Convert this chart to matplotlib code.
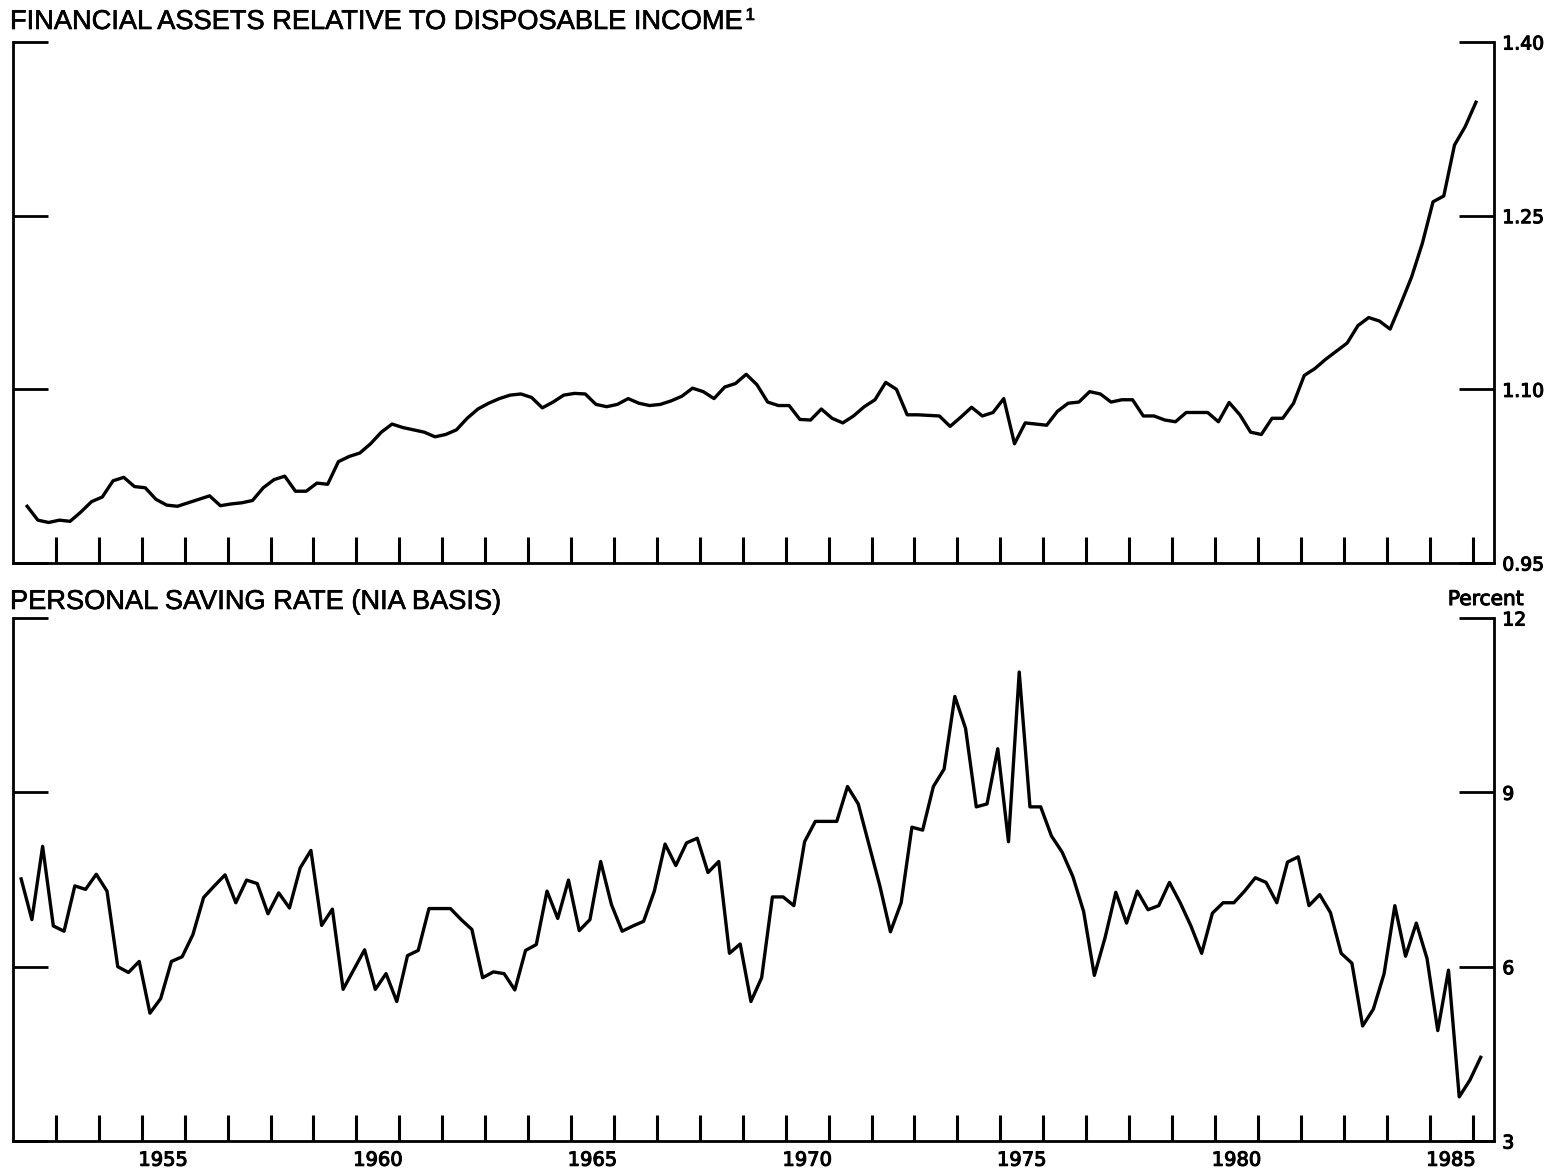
import numpy as np
import matplotlib
matplotlib.use("Agg")
import matplotlib.pyplot as plt
import matplotlib.patheffects as pe

plt.rcParams['font.family'] = ['Liberation Sans', 'DejaVu Sans']

# Ativos financeiros / renda disponivel, trimestral 1952T2 - 1986T1
assets = [
    0.999, 0.987, 0.985,                      # 1952 T2-T4
    0.987, 0.986, 0.994, 1.003,               # 1953
    1.007, 1.021, 1.024, 1.016,               # 1954
    1.015, 1.005, 1.000, 0.999,               # 1955
    1.002, 1.005, 1.008, 0.9995,              # 1956
    1.001, 1.002, 1.004, 1.015,               # 1957
    1.022, 1.025, 1.012, 1.012,               # 1958
    1.019, 1.018, 1.0375, 1.042,              # 1959
    1.045, 1.053, 1.063, 1.070,               # 1960
    1.067, 1.065, 1.063, 1.059,               # 1961
    1.061, 1.065, 1.075, 1.083,               # 1962
    1.088, 1.092, 1.095, 1.096,               # 1963
    1.093, 1.084, 1.089, 1.095,               # 1964
    1.0965, 1.096, 1.087, 1.085,              # 1965
    1.087, 1.092, 1.088, 1.086,               # 1966
    1.087, 1.090, 1.094, 1.101,               # 1967
    1.098, 1.092, 1.102, 1.105,               # 1968
    1.113, 1.104, 1.089, 1.086,               # 1969
    1.086, 1.074, 1.0735, 1.083,              # 1970
    1.075, 1.071, 1.077, 1.085,               # 1971
    1.091, 1.106, 1.100, 1.078,               # 1972
    1.078, 1.0775, 1.077, 1.068,              # 1973
    1.076, 1.0845, 1.077, 1.080,              # 1974
    1.092, 1.053, 1.071, 1.070,               # 1975
    1.069, 1.081, 1.088, 1.089,               # 1976
    1.098, 1.096, 1.089, 1.091,               # 1977
    1.091, 1.077, 1.077, 1.0735,              # 1978
    1.072, 1.080, 1.080, 1.080,               # 1979
    1.072, 1.0886, 1.078, 1.063,              # 1980
    1.061, 1.075, 1.075, 1.088,               # 1981
    1.112, 1.118, 1.126, 1.133,               # 1982
    1.140, 1.155, 1.162, 1.159,               # 1983
    1.152, 1.174, 1.197, 1.226,               # 1984
    1.262, 1.267, 1.311, 1.327,               # 1985
    1.348,                                    # 1986 T1
]

# Taxa de poupanca pessoal (%), trimestral 1952T1 - 1986T1
saving = [
    7.51, 6.81, 8.07, 6.70,    # 1952
    6.61, 7.39, 7.33, 7.59,    # 1953
    7.30, 6.00, 5.90, 6.09,    # 1954
    5.20, 5.45, 6.09, 6.17,    # 1955
    6.55, 7.19, 7.39, 7.58,    # 1956
    7.10, 7.49, 7.43, 6.91,    # 1957
    7.27, 7.01, 7.70, 8.00,    # 1958
    6.71, 6.99, 5.61, 5.95,    # 1959
    6.29, 5.61, 5.88, 5.40,    # 1960
    6.19, 6.28, 7.00, 7.00,    # 1961
    7.00, 6.81, 6.64, 5.81,    # 1962
    5.91, 5.88, 5.60, 6.28,    # 1963
    6.38, 7.30, 6.83, 7.49,    # 1964
    6.62, 6.81, 7.81, 7.07,    # 1965
    6.61, 6.70, 6.78, 7.30,    # 1966
    8.11, 7.74, 8.13, 8.21,    # 1967
    7.62, 7.81, 6.23, 6.39,    # 1968
    5.40, 5.81, 7.20, 7.20,    # 1969
    7.05, 8.15, 8.50, 8.50,    # 1970
    8.50, 9.10, 8.80, 8.10,    # 1971
    7.40, 6.60, 7.10, 8.40,    # 1972
    8.35, 9.10, 9.40, 10.65,   # 1973
    10.10, 8.75, 8.80, 9.75,   # 1974
    8.15, 11.07, 8.75, 8.75,   # 1975
    8.25, 7.97, 7.55, 6.95,    # 1976
    5.85, 6.50, 7.28, 6.75,    # 1977
    7.30, 6.98, 7.05, 7.45,    # 1978
    7.10, 6.70, 6.23, 6.92,    # 1979
    7.10, 7.10, 7.30, 7.53,    # 1980
    7.45, 7.10, 7.80, 7.89,    # 1981
    7.05, 7.24, 6.93, 6.23,    # 1982
    6.06, 4.98, 5.27, 5.88,    # 1983
    7.05, 6.18, 6.75, 6.14,    # 1984
    4.90, 5.94, 3.76, 4.05,    # 1985
    4.44,                      # 1986 T1
]

# datas trimestrais (ano decimal)
t_assets = 1952.25 + 0.25 * np.arange(len(assets)) + 0.08
t_saving = 1952.00 + 0.25 * np.arange(len(saving)) + 0.19

grosso = [pe.withStroke(linewidth=0.8, foreground='black')]
grosso_tit = [pe.withStroke(linewidth=0.45, foreground='black')]
fonte_num = ['DejaVu Sans']

W, H = 1557, 1174
fig = plt.figure(figsize=(W / 100, H / 100), dpi=100)
ax1 = fig.add_axes([13 / W, 1 - 563 / H, 1481 / W, 521 / H])
ax2 = fig.add_axes([13 / W, 1 - 1141 / H, 1481 / W, 523 / H])

def estilo(ax, yticks, ylabels, ylim):
    ax.spines['top'].set_visible(False)
    for s in ['left', 'right', 'bottom']:
        ax.spines[s].set_linewidth(2.0)
    ax.set_xlim(1952.0, 1986.5)
    ax.set_ylim(*ylim)
    ax.set_xticks(np.arange(1953, 1987))
    ax.tick_params(axis='x', which='major', direction='in', length=19,
                   width=2.2, labelbottom=False)
    ax.set_yticks(yticks)
    ax.set_yticklabels(ylabels, family=fonte_num, path_effects=grosso)
    ax.tick_params(axis='y', direction='in', length=25, width=2.0,
                   left=True, right=True, labelleft=False, labelright=True,
                   labelsize=13.5, pad=6)

ax1.plot(t_assets, assets, color='black', lw=2.4, solid_joinstyle='round')
estilo(ax1, [0.95, 1.10, 1.25, 1.40], ['0.95', '1.10', '1.25', '1.40'], (0.95, 1.40))

ax2.plot(t_saving, saving, color='black', lw=2.4, solid_joinstyle='round')
estilo(ax2, [3, 6, 9, 12], ['3', '6', '9', '12'], (3, 12))

anos = np.arange(1955, 1986, 5)
ax2.set_xticks(anos + 0.5, minor=True)
ax2.set_xticklabels([str(a) for a in anos], minor=True, family=fonte_num,
                    path_effects=grosso)
ax2.tick_params(axis='x', which='minor', length=0, labelsize=14, pad=7)

t1 = fig.text(10 / W, 1 - 29 / H, 'FINANCIAL ASSETS RELATIVE TO DISPOSABLE INCOME',
              fontsize=19.6, ha='left', va='baseline', path_effects=grosso_tit)
fig.canvas.draw()
bb = t1.get_window_extent(fig.canvas.get_renderer())
fig.text((bb.x1 + 3) / W, 1 - 20 / H, '1', fontsize=12.5, ha='left',
         va='baseline', path_effects=grosso_tit)

fig.text(10 / W, 1 - 609 / H, 'PERSONAL SAVING RATE (NIA BASIS)',
         fontsize=19.6, ha='left', va='baseline', path_effects=grosso_tit)
fig.text(1524 / W, 1 - 605 / H, 'Percent', fontsize=14.5, ha='right',
         va='baseline', family=fonte_num, path_effects=grosso)

fig.savefig('out.png', dpi=100)
